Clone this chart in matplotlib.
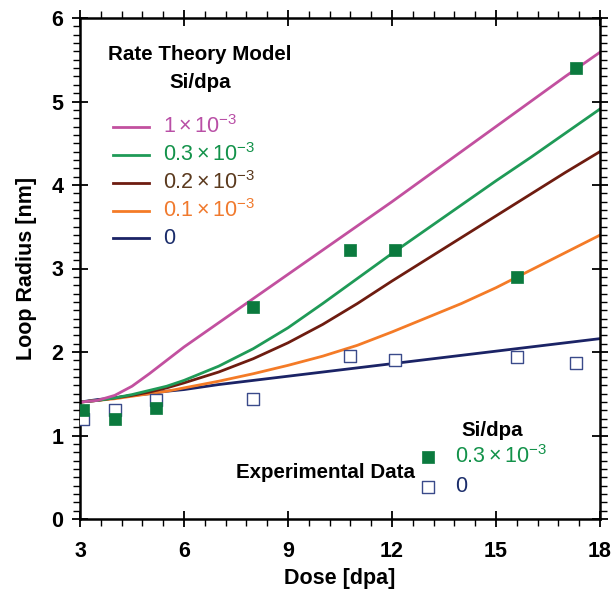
import matplotlib
matplotlib.use("Agg")
import matplotlib.pyplot as plt
from matplotlib.ticker import MultipleLocator

FONT = 'Liberation Sans'
plt.rcParams['font.family'] = [FONT, 'DejaVu Sans']
plt.rcParams['mathtext.fontset'] = 'custom'
plt.rcParams['mathtext.rm'] = FONT
plt.rcParams['mathtext.it'] = FONT
plt.rcParams['mathtext.bf'] = FONT + ':bold'

# ---- data ----
dose_model = [3, 3.5, 4, 4.5, 5, 5.5, 6, 7, 8, 9, 10, 11, 12, 13, 14, 15, 16, 17, 18]
r_si_1e3   = [1.40, 1.42, 1.48, 1.59, 1.74, 1.90, 2.06, 2.35, 2.64, 2.93, 3.22, 3.51, 3.80, 4.10, 4.40, 4.70, 5.00, 5.30, 5.59]
r_si_03e3  = [1.40, 1.42, 1.45, 1.49, 1.54, 1.59, 1.66, 1.83, 2.04, 2.29, 2.58, 2.88, 3.18, 3.47, 3.76, 4.05, 4.33, 4.62, 4.91]
r_si_02e3  = [1.40, 1.42, 1.45, 1.48, 1.52, 1.57, 1.63, 1.76, 1.92, 2.11, 2.33, 2.58, 2.85, 3.11, 3.37, 3.63, 3.89, 4.15, 4.40]
r_si_01e3  = [1.40, 1.42, 1.44, 1.47, 1.50, 1.53, 1.57, 1.65, 1.74, 1.84, 1.95, 2.08, 2.24, 2.41, 2.58, 2.77, 2.98, 3.19, 3.40]
r_si_0     = [1.40, 1.43, 1.45, 1.48, 1.50, 1.53, 1.55, 1.61, 1.66, 1.71, 1.76, 1.81, 1.86, 1.91, 1.96, 2.01, 2.06, 2.11, 2.16]

dose_exp = [3.1, 4.0, 5.2, 8.0, 10.8, 12.1, 15.6, 17.3]
exp_si_03e3 = [1.30, 1.20, 1.33, 2.54, 3.22, 3.22, 2.90, 5.40]
exp_si_0    = [1.20, 1.30, 1.43, 1.44, 1.95, 1.90, 1.94, 1.87]

series_labels = [r'$1\times10^{-3}$', r'$0.3\times10^{-3}$', r'$0.2\times10^{-3}$',
                 r'$0.1\times10^{-3}$', '0']
line_colors = ['#c2509f', '#1f9a57', '#6e1c10', '#f47b27', '#1b2366']
text_colors = ['#b94fa6', '#13924a', '#5b3a1e', '#f07a2e', '#1b2d6b']
model_series = [r_si_1e3, r_si_03e3, r_si_02e3, r_si_01e3, r_si_0]

fig = plt.figure(figsize=(6.13, 5.92), dpi=100)
ax = fig.add_axes([80/613, 73/592, 520/613, 501/592])

for ys, c in zip(model_series[::-1], line_colors[::-1]):
    ax.plot(dose_model, ys, color=c, lw=2.0, zorder=2)

MS = 85
ax.scatter(dose_exp, exp_si_0, marker='s', s=MS, facecolor='white',
           edgecolor='#3a4a8a', linewidth=1.0, zorder=3)
ax.scatter(dose_exp, exp_si_03e3, marker='s', s=MS, facecolor='#0b7a3e',
           edgecolor='#0b7a3e', linewidth=0.5, zorder=4)

ax.set_xlim(3, 18)
ax.set_ylim(0, 6)
ax.xaxis.set_major_locator(MultipleLocator(3))
ax.xaxis.set_minor_locator(MultipleLocator(0.6))
ax.yaxis.set_major_locator(MultipleLocator(1))
ax.yaxis.set_minor_locator(MultipleLocator(0.1))
ax.tick_params(which='major', direction='inout', length=12, width=1.3,
               top=True, right=True, labelsize=15.5)
ax.tick_params(axis='x', which='major', pad=10)
ax.tick_params(axis='y', which='major', pad=6)
ax.tick_params(which='minor', direction='out', length=5, width=1.0,
               top=True, right=True)
for lab in ax.get_xticklabels() + ax.get_yticklabels():
    lab.set_fontweight('bold')
for sp in ax.spines.values():
    sp.set_linewidth(1.8)

ax.set_xlabel('Dose [dpa]', fontsize=15.5, fontweight='bold', labelpad=4)
ax.set_ylabel('Loop Radius [nm]', fontsize=15.5, fontweight='bold', labelpad=10)

# ---- model legend ----
def ax_xy(px, py):
    return ((px - 80) / 520, (519 - py) / 501)

x0, y0 = ax_xy(108, 55)
ax.text(x0, y0, 'Rate Theory Model', transform=ax.transAxes, fontsize=14.8,
        fontweight='bold', va='center', ha='left')
x0, y0 = ax_xy(200, 83)
ax.text(x0, y0, 'Si/dpa', transform=ax.transAxes, fontsize=14.8,
        fontweight='bold', va='center', ha='center')
rows = [127, 155, 183, 211, 238]
for py, lab, lc, tc in zip(rows, series_labels, line_colors, text_colors):
    xa, ya = ax_xy(113, py)
    xb, _ = ax_xy(149, py)
    ax.plot([xa, xb], [ya, ya], color=lc, lw=2.0, transform=ax.transAxes)
    xt, _ = ax_xy(163, py)
    ax.text(xt, ya, lab, transform=ax.transAxes, fontsize=15.5, color=tc,
            va='center', ha='left')

# ---- experimental legend ----
x0, y0 = ax_xy(492, 430)
ax.text(x0, y0, 'Si/dpa', transform=ax.transAxes, fontsize=14.8,
        fontweight='bold', va='center', ha='center')
xm, ym = ax_xy(428, 457)
ax.scatter([xm], [ym], marker='s', s=MS, facecolor='#0b7a3e',
           edgecolor='#0b7a3e', linewidth=0.5, transform=ax.transAxes, clip_on=False)
xt, _ = ax_xy(455, 457)
ax.text(xt, ym, r'$0.3\times10^{-3}$', transform=ax.transAxes, fontsize=15.5,
        color='#13924a', va='center', ha='left')
xm, ym = ax_xy(428, 487)
ax.scatter([xm], [ym], marker='s', s=MS, facecolor='white',
           edgecolor='#3a4a8a', linewidth=1.0, transform=ax.transAxes, clip_on=False)
ax.text(xt, ym, '0', transform=ax.transAxes, fontsize=15.5,
        color='#1b2d6b', va='center', ha='left')
x0, y0 = ax_xy(415, 473)
ax.text(x0, y0, 'Experimental Data', transform=ax.transAxes, fontsize=14.8,
        fontweight='bold', va='center', ha='right')

fig.savefig('out.png', dpi=100)
